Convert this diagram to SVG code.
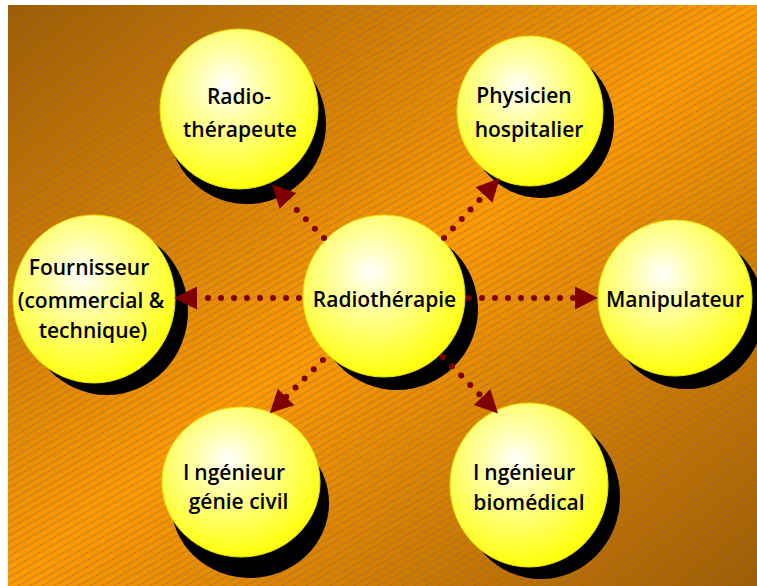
<svg xmlns="http://www.w3.org/2000/svg" width="757" height="586" viewBox="0 0 757 586">
<defs>
<linearGradient id="bg" x1="0" y1="0" x2="1" y2="1">
<stop offset="0" stop-color="#a05c00"/>
<stop offset="0.5" stop-color="#ff9900"/>
<stop offset="1" stop-color="#a05c00"/>
</linearGradient>
<pattern id="hatch" width="6" height="6" patternUnits="userSpaceOnUse" patternTransform="rotate(-30)">
<line x1="0" y1="0.5" x2="6" y2="0.5" stroke="#6e6e6e" stroke-width="1" stroke-opacity="0.45"/>
</pattern>
<radialGradient id="ball" cx="0.42" cy="0.35" r="0.68" fx="0.42" fy="0.35">
<stop offset="0" stop-color="#ffffff"/>
<stop offset="0.3" stop-color="#ffffa8"/>
<stop offset="0.7" stop-color="#ffff48"/>
<stop offset="1" stop-color="#ffff00"/>
</radialGradient>
<marker id="arr" markerUnits="userSpaceOnUse" markerWidth="24" markerHeight="24" refX="0" refY="11.5" orient="auto">
<path d="M0,0 L23,11.5 L0,23 Z" fill="#800000"/>
</marker>
<style>
.sh{fill:#000}
.ball{fill:url(#ball);stroke:#e8e000;stroke-width:1}
.lbl{font-family:"Open Sans","DejaVu Sans",sans-serif;font-weight:600;font-size:21px;fill:#000;text-anchor:middle}
.con{fill:none;stroke:#800000;stroke-width:6;stroke-linecap:round;stroke-dasharray:0 13;marker-end:url(#arr)}
</style>
</defs>
<rect x="0" y="0" width="757" height="586" fill="#ffffff"/>
<rect x="8" y="5" width="749" height="581" fill="url(#bg)"/>
<rect x="8" y="5" width="749" height="581" fill="url(#hatch)"/>

<g id="node-radiotherapeute">
<ellipse class="sh" cx="247" cy="124" rx="79" ry="80"/>
<ellipse class="ball" cx="239" cy="109" rx="79" ry="80"/>
<text class="lbl" x="239" y="104">Radio-</text>
<text class="lbl" x="240" y="137">thérapeute</text>
</g>
<g id="node-physicien">
<ellipse class="sh" cx="541" cy="123" rx="73" ry="75"/>
<ellipse class="ball" cx="530" cy="111" rx="73" ry="75"/>
<text class="lbl" x="524" y="103">Physicien</text>
<text class="lbl" x="529" y="137">hospitalier</text>
</g>
<g id="node-fournisseur">
<ellipse class="sh" cx="107" cy="311" rx="81" ry="84"/>
<ellipse class="ball" cx="94" cy="299" rx="81" ry="84"/>
<text class="lbl" x="89" y="275">Fournisseur</text>
<text class="lbl" x="91" y="308">(commercial &amp;</text>
<text class="lbl" x="93" y="338">technique)</text>
</g>
<g id="node-radiotherapie">
<ellipse class="sh" cx="397" cy="309" rx="81" ry="81"/>
<ellipse class="ball" cx="384" cy="296" rx="81" ry="81"/>
<text class="lbl" x="384.5" y="307">Radiothérapie</text>
</g>
<g id="node-manipulateur">
<ellipse class="sh" cx="687" cy="311" rx="77" ry="78"/>
<ellipse class="ball" cx="675" cy="298" rx="77" ry="78"/>
<text class="lbl" x="675" y="307">Manipulateur</text>
</g>
<g id="node-genie-civil">
<ellipse class="sh" cx="250" cy="503" rx="79" ry="75"/>
<ellipse class="ball" cx="241" cy="482" rx="79" ry="75"/>
<text class="lbl" x="234" y="480">I<tspan dx="5">ngénieur</tspan></text>
<text class="lbl" x="238.5" y="509">génie civil</text>
</g>
<g id="node-biomedical">
<ellipse class="sh" cx="541" cy="497" rx="79" ry="82"/>
<ellipse class="ball" cx="529" cy="485" rx="79" ry="82"/>
<text class="lbl" x="524" y="480">I<tspan dx="5">ngénieur</tspan></text>
<text class="lbl" x="529" y="510">biomédical</text>
</g>

<g id="connectors">
<path class="con" d="M299,298 L197,298"/>
<path class="con" d="M469,298 L575,298"/>
<path class="con" d="M324,238 L288,201"/>
<path class="con" d="M444,238 L484,195"/>
<path class="con" d="M323,360 L286,397"/>
<path class="con" d="M443,357 L482,397"/>
</g>
</svg>
